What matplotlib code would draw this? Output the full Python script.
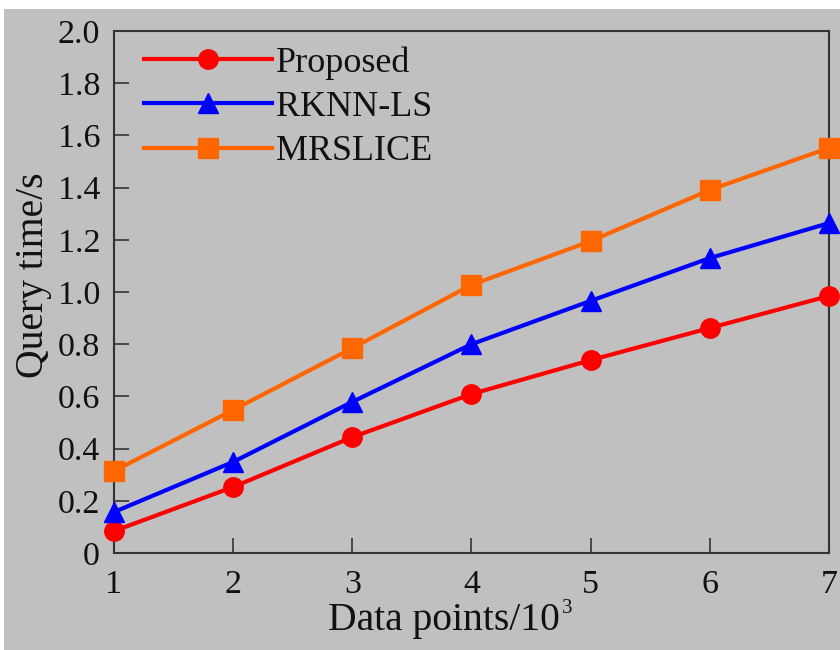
import matplotlib
matplotlib.use("Agg")
import matplotlib.pyplot as plt

x_values = [1, 2, 3, 4, 5, 6, 7]
proposed = [0.084, 0.253, 0.444, 0.609, 0.739, 0.862, 0.985]
rknn_ls = [0.157, 0.349, 0.579, 0.800, 0.966, 1.130, 1.264]
mrslice = [0.314, 0.548, 0.785, 1.027, 1.195, 1.391, 1.552]
series_names = ["Proposed", "RKNN-LS", "MRSLICE"]
y_ticks = [0, 0.2, 0.4, 0.6, 0.8, 1.0, 1.2, 1.4, 1.6, 1.8, 2.0]
y_tick_labels = ["0", "0.2", "0.4", "0.6", "0.8", "1.0", "1.2", "1.4", "1.6", "1.8", "2.0"]

plt.rcParams['font.family'] = ['Liberation Serif', 'DejaVu Serif']

bg = '#c0c0c0'
fig = plt.figure(figsize=(8.4, 6.5), dpi=100)
fig.patch.set_facecolor('white')
fig.patches.append(plt.Rectangle((4/840, 0), 1 - 4/840, 1 - 9/650, transform=fig.transFigure,
                                 facecolor=bg, edgecolor='none', zorder=-10))
ax = fig.add_axes([114/840, 1 - 553/650, (829 - 114)/840, (553 - 31)/650])
ax.set_facecolor(bg)

styles = [('#ff0000', 'o', 14), ('#0000ff', '^', 15), ('#ff6600', 's', 15)]
for vals, name, (c, m, ms) in zip([proposed, rknn_ls, mrslice], series_names, styles):
    ax.plot(x_values, vals, color=c, marker=m, markersize=ms, linewidth=3,
            label=name, clip_on=False, zorder=5)

ax.set_xlim(1, 7)
ax.set_ylim(0, 2.0)
ax.set_xticks(x_values)
ax.set_xticklabels([str(v) for v in x_values])
ax.set_yticks(y_ticks)
ax.set_yticklabels(y_tick_labels)
ax.tick_params(direction='in', length=11, width=1.2, labelsize=24.5, color='#333333',
               labelcolor='#111111', top=False, right=False, pad=10)
ax.tick_params(axis='x', pad=12)
for s in ax.spines.values():
    s.set_color('#333333')
    s.set_linewidth(1.5)

ax.set_xlabel("Data points/10", fontsize=28.5, color='#111111')
ax.xaxis.set_label_coords(0.461, -0.094)
ax.annotate("3", xy=(1.0, 1.0), xycoords=ax.xaxis.label, xytext=(1.5, 2),
            textcoords='offset points', ha='left', va='top', fontsize=15,
            color='#111111')
ax.set_ylabel("Query time/s", fontsize=28.5, color='#111111')
ax.yaxis.set_label_coords(-0.087, 0.533)

ax.legend(loc='upper left', frameon=False, fontsize=26, handlelength=3.55,
          handletextpad=0.1, labelspacing=0.3, borderaxespad=0.0,
          bbox_to_anchor=(0.022, 0.998), labelcolor='#111111')

fig.savefig("out.png", dpi=100, facecolor=fig.get_facecolor())
